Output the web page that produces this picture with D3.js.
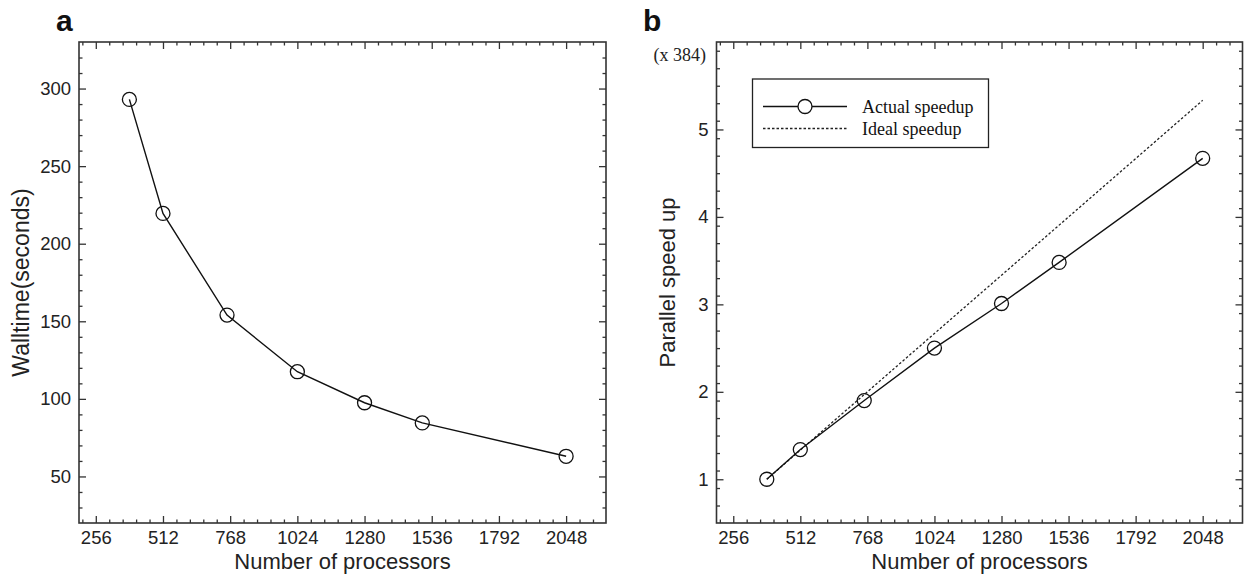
<!DOCTYPE html>
<html>
<head>
<meta charset="utf-8">
<script src="https://cdn.jsdelivr.net/npm/d3@7"></script>
<style>
  body { margin: 0; background: #fff; }
  svg text { font-family: "Liberation Sans", Arial, sans-serif; }
</style>
</head>
<body>
<div id="chart"></div>
<script>
// data
var procs = [384, 512, 756, 1024, 1280, 1500, 2048];
var walltime = [293, 219.5, 154, 117.5, 97.5, 84.5, 63];
var actualSpeedup = [1.0, 1.34, 1.9, 2.5, 3.01, 3.48, 4.67];
var idealSpeedup = [1.0, 1.333, 1.969, 2.667, 3.333, 3.906, 5.333];

var xTicks = [256, 512, 768, 1024, 1280, 1536, 1792, 2048];
var wallTicks = [50, 100, 150, 200, 250, 300];
var speedTicks = [1, 2, 3, 4, 5];

var W = 1245, H = 574;
var plotTop = 42, plotBottom = 523;

var svg = d3.select("#chart").append("svg")
  .attr("width", W)
  .attr("height", H);

function range(a, b, step) {
  var out = [];
  for (var v = a; v <= b + 1e-9; v += step) out.push(+v.toFixed(4));
  return out;
}

function drawPanel(p) {
  var g = svg.append("g");

  var x = d3.scaleLinear().domain([192, 2200]).range([p.left, p.right]);
  var y = d3.scaleLinear().domain(p.yDomain).range([plotBottom, plotTop]);

  var xMinor = range(204.8, 2200, 51.2).filter(function(v) { return xTicks.indexOf(Math.round(v)) < 0; });
  var yMinor = range(p.yDomain[0], p.yDomain[1], p.yMinorStep).filter(function(v) {
    return p.yTicks.indexOf(v) < 0 && v > p.yDomain[0] && v < p.yDomain[1];
  });

  function addAxis(axis, tx, ty, size, vals, labels) {
    var a = g.append("g")
      .attr("transform", "translate(" + tx + "," + ty + ")")
      .call(axis.tickValues(vals).tickSize(-size).tickPadding(8)
        .tickFormat(labels ? d3.format("d") : ""));
    a.select(".domain").remove();
    a.selectAll("line").attr("stroke", "#333").attr("stroke-width", 1.3);
    a.selectAll("text").attr("font-size", "18.5px").attr("fill", "#222");
    return a;
  }

  // bottom / top
  addAxis(d3.axisBottom(x), 0, plotBottom, 7, xTicks, true);
  addAxis(d3.axisBottom(x), 0, plotBottom, 3.5, xMinor, false);
  addAxis(d3.axisTop(x), 0, plotTop, 7, xTicks, false);
  addAxis(d3.axisTop(x), 0, plotTop, 3.5, xMinor, false);
  // left / right
  addAxis(d3.axisLeft(y), p.left, 0, 7, p.yTicks, true);
  addAxis(d3.axisLeft(y), p.left, 0, 3.5, yMinor, false);
  addAxis(d3.axisRight(y), p.right, 0, 7, p.yTicks, false);
  addAxis(d3.axisRight(y), p.right, 0, 3.5, yMinor, false);

  g.append("rect")
    .attr("x", p.left).attr("y", plotTop)
    .attr("width", p.right - p.left).attr("height", plotBottom - plotTop)
    .attr("fill", "none").attr("stroke", "#333").attr("stroke-width", 1.6);

  var line = d3.line()
    .x(function(d) { return x(d[0]); })
    .y(function(d) { return y(d[1]); });

  if (p.dashed) {
    g.append("path")
      .datum(d3.zip(procs, p.dashed))
      .attr("d", line)
      .attr("fill", "none").attr("stroke", "#222")
      .attr("stroke-width", 1.3).attr("stroke-dasharray", "2.5,2");
  }

  var pts = d3.zip(procs, p.values);
  g.append("path")
    .datum(pts)
    .attr("d", line)
    .attr("fill", "none").attr("stroke", "#111").attr("stroke-width", 1.4);

  g.selectAll("circle.pt").data(pts).enter()
    .append("circle").attr("class", "pt")
    .attr("cx", function(d) { return x(d[0]); })
    .attr("cy", function(d) { return y(d[1]); })
    .attr("r", 7)
    .attr("fill", "none").attr("stroke", "#111").attr("stroke-width", 1.3);

  // axis titles
  g.append("text")
    .attr("x", (p.left + p.right) / 2).attr("y", 569)
    .attr("text-anchor", "middle").attr("font-size", "22px").attr("fill", "#222")
    .text("Number of processors");

  g.append("text")
    .attr("transform", "translate(" + p.yTitleX + "," + (plotTop + plotBottom) / 2 + ") rotate(-90)")
    .attr("text-anchor", "middle").attr("font-size", p.yTitleSize).attr("fill", "#222")
    .text(p.yTitle);

  // panel letter
  g.append("text")
    .attr("x", p.letterX).attr("y", 31)
    .attr("font-size", "30px").attr("font-weight", "bold").attr("fill", "#111")
    .text(p.letter);

  return { g: g, x: x, y: y };
}

drawPanel({
  left: 79, right: 606,
  yDomain: [20, 330], yTicks: wallTicks, yMinorStep: 10,
  values: walltime,
  yTitle: "Walltime(seconds)", yTitleX: 29, yTitleSize: "23px",
  letter: "a", letterX: 56
});

var b = drawPanel({
  left: 716.5, right: 1242.5,
  yDomain: [0.5, 6], yTicks: speedTicks, yMinorStep: 0.2,
  values: actualSpeedup, dashed: idealSpeedup,
  yTitle: "Parallel speed up", yTitleX: 675, yTitleSize: "22px",
  letter: "b", letterX: 643
});

// multiplier label
b.g.append("text")
  .attr("x", 706).attr("y", 61)
  .attr("text-anchor", "end")
  .style("font-family", "'Liberation Serif', 'Times New Roman', serif")
  .attr("font-size", "18px").attr("fill", "#222")
  .text("(x 384)");

// legend
var leg = b.g.append("g");
leg.append("rect")
  .attr("x", 752.5).attr("y", 79).attr("width", 236).attr("height", 68.5)
  .attr("fill", "#fff").attr("stroke", "#222").attr("stroke-width", 1.3);
leg.append("line")
  .attr("x1", 763).attr("x2", 847).attr("y1", 106.5).attr("y2", 106.5)
  .attr("stroke", "#111").attr("stroke-width", 1.4);
leg.append("circle")
  .attr("cx", 805).attr("cy", 106.5).attr("r", 7)
  .attr("fill", "#fff").attr("stroke", "#111").attr("stroke-width", 1.3);
leg.append("line")
  .attr("x1", 763).attr("x2", 847).attr("y1", 128.5).attr("y2", 128.5)
  .attr("stroke", "#222").attr("stroke-width", 1.3).attr("stroke-dasharray", "2.5,2");
var legLabels = ["Actual speedup", "Ideal speedup"];
leg.selectAll("text.lab").data(legLabels).enter()
  .append("text").attr("class", "lab")
  .attr("x", 862).attr("y", function(d, i) { return 112.5 + i * 22; })
  .style("font-family", "'Liberation Serif', 'Times New Roman', serif")
  .attr("font-size", "18px").attr("fill", "#111")
  .text(function(d) { return d; });
</script>
</body>
</html>
